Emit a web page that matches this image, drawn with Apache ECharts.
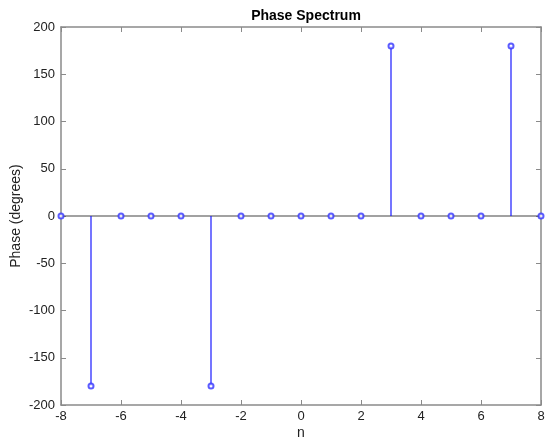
<!DOCTYPE html>
<html>
<head>
<meta charset="utf-8">
<script src="https://cdn.jsdelivr.net/npm/echarts@6/dist/echarts.min.js"></script>
<style>
  html, body { margin: 0; padding: 0; background: #fff; }
  #chart { width: 545px; height: 440px; }
</style>
</head>
<body>
<div id="chart"></div>
<script>
// sample index n and phase in degrees
const nValues = [-8, -7, -6, -5, -4, -3, -2, -1, 0, 1, 2, 3, 4, 5, 6, 7, 8];
const phase = [0, -180, 0, 0, 0, -180, 0, 0, 0, 0, 0, 180, 0, 0, 0, 180, 0];

const points = nValues.map((n, i) => [n, phase[i]]);

const chart = echarts.init(document.getElementById('chart'));
const font = 'Liberation Sans, Arial, Helvetica, sans-serif';
const frame = '#8a8a8a';

const axisCommon = {
  type: 'value',
  splitLine: { show: false },
  axisLine: { show: true, onZero: false, lineStyle: { color: frame, width: 1.5 } },
  axisTick: { show: true, inside: true, length: 5, lineStyle: { color: frame } }
};

chart.setOption({
  animation: false,
  title: {
    text: 'Phase Spectrum',
    left: 301,
    top: 4,
    textAlign: 'center',
    textStyle: { fontFamily: font, fontSize: 14, fontWeight: 'bold', color: '#000' }
  },
  grid: { left: 61, right: 4, top: 27, bottom: 35, outerBoundsMode: 'none', containLabel: false },
  xAxis: [
    Object.assign({}, axisCommon, {
      min: -8, max: 8, interval: 2,
      position: 'bottom',
      name: 'n',
      nameLocation: 'middle',
      nameGap: 21,
      nameMoveOverlap: false,
      nameTextStyle: { fontFamily: font, fontSize: 14, color: '#222' },
      axisLabel: { fontFamily: font, fontSize: 13, color: '#222', margin: 5 }
    }),
    Object.assign({}, axisCommon, {
      min: -8, max: 8, interval: 2,
      position: 'top',
      axisLabel: { show: false }
    })
  ],
  yAxis: [
    Object.assign({}, axisCommon, {
      min: -200, max: 200, interval: 50,
      position: 'left',
      name: 'Phase (degrees)',
      nameLocation: 'middle',
      nameGap: 38,
      nameMoveOverlap: false,
      nameTextStyle: { fontFamily: font, fontSize: 14, color: '#222' },
      axisLabel: { fontFamily: font, fontSize: 13, color: '#222', margin: 6 }
    }),
    Object.assign({}, axisCommon, {
      min: -200, max: 200, interval: 50,
      position: 'right',
      axisLabel: { show: false }
    })
  ],
  series: [
    {
      // stems
      type: 'custom',
      data: points,
      renderItem: (params, api) => {
        const top = api.coord([api.value(0), api.value(1)]);
        const base = api.coord([api.value(0), 0]);
        return {
          type: 'line',
          shape: { x1: base[0], y1: base[1], x2: top[0], y2: top[1] },
          style: { stroke: '#1a1aff', lineWidth: 1.2 }
        };
      },
      z: 3
    },
    {
      type: 'line',
      data: [[-8, 0], [8, 0]],
      symbol: 'none',
      lineStyle: { color: '#444', width: 1.2 },
      z: 2
    },
    {
      type: 'scatter',
      data: points,
      symbol: 'emptyCircle',
      symbolSize: 5,
      itemStyle: { color: '#3333ff', borderColor: '#3333ff', borderWidth: 1.3 },
      z: 4
    }
  ]
});
</script>
</body>
</html>
